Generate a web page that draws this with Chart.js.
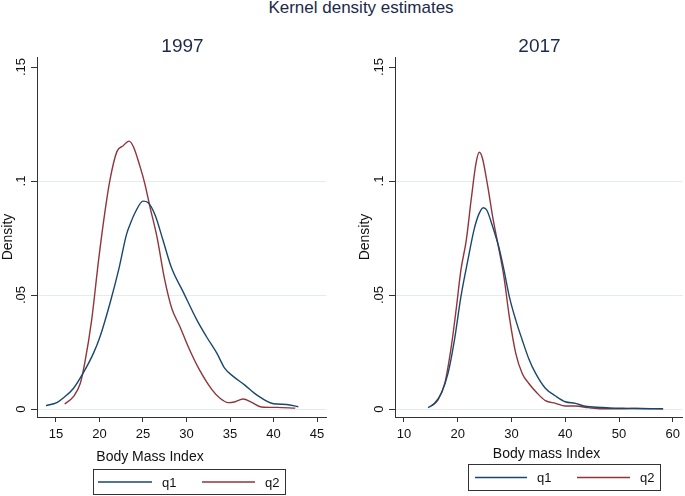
<!DOCTYPE html>
<html>
<head>
<meta charset="utf-8">
<script src="https://cdn.jsdelivr.net/npm/chart.js@4.4.1/dist/chart.umd.min.js"></script>
<style>
html,body{margin:0;padding:0;background:#fff;}
body{width:685px;height:496px;position:relative;overflow:hidden;font-family:"Liberation Sans",Arial,sans-serif;}
#mainTitle{position:absolute;left:161px;width:400px;top:-2px;text-align:center;font-size:17px;line-height:20px;color:#1c2a4a;}
.wrap{position:absolute;top:0;}
</style>
</head>
<body>
<div id="mainTitle">Kernel density estimates</div>
<div class="wrap" style="left:0;"><canvas id="c1" width="340" height="496"></canvas></div>
<div class="wrap" style="left:340px;"><canvas id="c2" width="345" height="496"></canvas></div>
<script>
// ---------- data ----------
const seriesNames = ['q1', 'q2'];
const panelTitles = ['1997', '2017'];
const xTitles = ['Body Mass Index', 'Body mass Index'];

const bmi97_q1  = [13.85,15.1,15.8,17.0,18.1,19.3,20.06,21.2,22.2,23.1,23.6,24.1,25.0,25.6,26.4,27.3,28.3,29.6,31.2,32.3,33.5,34.4,35.4,36.7,38.1,40.0,41.5,42.85];
const dens97_q1 = [.0015,.0028,.0047,.009,.0156,.0244,.0317,.0463,.061,.0765,.0818,.0862,.0912,.0905,.085,.074,.0617,.0515,.039,.0317,.0244,.0178,.0142,.0105,.0061,.0023,.002,.001];

const bmi97_q2  = [16.0,17.0,17.8,18.3,19.1,19.9,20.6,21.2,22.0,22.7,23.4,23.9,24.66,25.2,25.8,26.6,27.5,28.3,29.25,30.2,31.4,32.9,33.85,34.8,35.6,36.5,37.5,38.6,40.4,42.5];
const dens97_q2 = [.0022,.0054,.0113,.020,.039,.0654,.0858,.1004,.1129,.1154,.1175,.115,.1063,.099,.0887,.0756,.0566,.0442,.0361,.0273,.0178,.0086,.0047,.0028,.0032,.0044,.0029,.0009,.0007,.0004];

const bmi17_q1  = [14.5,15.7,16.95,18.2,19.4,20.6,21.9,23.1,24.0,24.76,25.4,26.5,27.7,28.6,29.6,30.8,32.0,33.2,34.5,36.3,38.2,40.0,41.9,43.7,46.8,49.2,51.7,55.4,58.2];
const dens17_q1 = [.0006,.0025,.0069,.0156,.0303,.0493,.0654,.0792,.0858,.0883,.0873,.080,.0705,.061,.0493,.039,.0303,.0222,.0156,.0091,.0057,.0032,.0025,.0012,.0007,.0004,.0003,.0001,.0001];

const bmi17_q2  = [15.1,16.3,17.6,18.8,19.7,20.6,21.6,22.5,23.4,24.0,24.6,25.6,26.5,27.7,28.6,29.6,30.8,32.0,33.2,34.8,36.3,38.2,40.0,41.9,44.3,46.8,50.5,54.2,58.2];
const dens17_q2 = [.0013,.0039,.0113,.0273,.0434,.061,.0741,.0917,.1077,.1126,.110,.0975,.0844,.0697,.058,.0405,.0244,.0156,.0113,.0069,.0037,.0025,.0013,.0013,.0006,.0001,.0001,.0003,.0001];

const yTickValues = [0, 0.05, 0.1, 0.15];
const yTickLabels = ['0', '.05', '.1', '.15'];
const xTicks97 = [15, 20, 25, 30, 35, 40, 45];
const xTicks17 = [10, 20, 30, 40, 50, 60];
// ---------------------------------------------------

const FONT = '"Liberation Sans", Arial, sans-serif';
Chart.defaults.font.family = FONT;
Chart.defaults.color = '#111';

const BLUE = '#1a476f', RED = '#90353b';
const AXIS = '#333', GRID = '#e3ecee';

function pts(xs, ys) { return xs.map((x, i) => ({ x: x, y: ys[i] })); }

const decorPlugin = {
  id: 'decor',
  afterDraw(chart, args, o) {
    const ctx = chart.ctx;
    ctx.save();
    ctx.textAlign = 'center';
    ctx.textBaseline = 'alphabetic';
    ctx.fillStyle = '#1c2a4a';
    ctx.font = '19px ' + FONT;
    ctx.fillText(o.title, o.titleX, o.titleY);
    ctx.fillStyle = '#111';
    ctx.font = '14px ' + FONT;
    ctx.fillText(o.xTitle, o.xTitleX, o.xTitleY);
    const b = o.legendBox;
    ctx.strokeStyle = '#333';
    ctx.lineWidth = 1;
    ctx.strokeRect(b[0] + 0.5, b[1] + 0.5, b[2], b[3]);
    const my = b[1] + b[3] / 2 + 0.5;
    chart.data.datasets.forEach((ds, i) => {
      const it = o.legendItems[i];
      ctx.strokeStyle = ds.borderColor;
      ctx.lineWidth = 1.4;
      ctx.beginPath(); ctx.moveTo(it[0], my); ctx.lineTo(it[1], my); ctx.stroke();
      ctx.fillStyle = '#111';
      ctx.font = '13px ' + FONT;
      ctx.textAlign = 'left';
      ctx.textBaseline = 'middle';
      ctx.fillText(ds.label, it[2], my + 1);
    });
    ctx.restore();
  }
};

function makeChart(id, sets, xTicks, xMin, xMax, yAxisWidth, pad, decor) {
  return new Chart(document.getElementById(id), {
    type: 'line',
    data: {
      datasets: sets.map((s, i) => ({
        label: seriesNames[i],
        data: s,
        borderColor: i === 0 ? BLUE : RED,
        borderWidth: 1.4,
        pointRadius: 0,
        fill: false,
        cubicInterpolationMode: 'monotone'
      }))
    },
    options: {
      responsive: false,
      animation: false,
      devicePixelRatio: 1,
      layout: { padding: pad },
      plugins: { legend: { display: false }, tooltip: { enabled: false }, title: { display: false }, decor: decor },
      scales: {
        x: {
          type: 'linear',
          min: xMin, max: xMax,
          afterBuildTicks: (s) => { s.ticks = xTicks.map(v => ({ value: v })); },
          afterFit: (s) => { s.height = 40; },
          ticks: { font: { size: 13 }, color: '#111', padding: 5, maxRotation: 0, autoSkip: false },
          grid: { drawOnChartArea: false, drawTicks: true, tickLength: 5, tickColor: AXIS, tickWidth: 1 },
          border: { display: true, color: AXIS, width: 1 }
        },
        y: {
          type: 'linear',
          min: -0.0035, max: 0.1544,
          afterBuildTicks: (s) => { s.ticks = yTickValues.map(v => ({ value: v })); },
          afterFit: (s) => { s.width = yAxisWidth; },
          ticks: {
            font: { size: 13 }, color: '#111', padding: 1,
            minRotation: 90, maxRotation: 90, crossAlign: 'center',
            callback: (v) => { const k = yTickValues.indexOf(v); return k >= 0 ? yTickLabels[k] : ''; }
          },
          title: { display: true, text: 'Density', font: { size: 14 }, color: '#111', padding: 0 },
          grid: {
            drawOnChartArea: true, drawTicks: true, tickLength: 6, tickColor: AXIS, tickWidth: 1,
            color: (c) => (c.tick && c.tick.value === 0.15) ? 'rgba(0,0,0,0)' : GRID,
            lineWidth: 1
          },
          border: { display: true, color: AXIS, width: 1 }
        }
      }
    },
    plugins: [decorPlugin]
  });
}

makeChart('c1',
  [pts(bmi97_q1, dens97_q1), pts(bmi97_q2, dens97_q2)],
  xTicks97, 12.82, 46.03, 37,
  { top: 57, left: 0, right: 14, bottom: 39 },
  { title: panelTitles[0], titleX: 182.5, titleY: 52,
    xTitle: xTitles[0], xTitleX: 150, xTitleY: 461,
    legendBox: [93, 469, 192, 25],
    legendItems: [[98, 152, 162], [202, 255, 265]] });

makeChart('c2',
  [pts(bmi17_q1, dens17_q1), pts(bmi17_q2, dens17_q2)],
  xTicks17, 8.34, 61.85, 38,
  { top: 57, left: 17, right: 0, bottom: 39 },
  { title: panelTitles[1], titleX: 199.5, titleY: 52,
    xTitle: xTitles[1], xTitleX: 206.5, xTitleY: 458,
    legendBox: [128, 464, 192, 26],
    legendItems: [[135, 187, 197], [237, 290, 300]] });
</script>
</body>
</html>
